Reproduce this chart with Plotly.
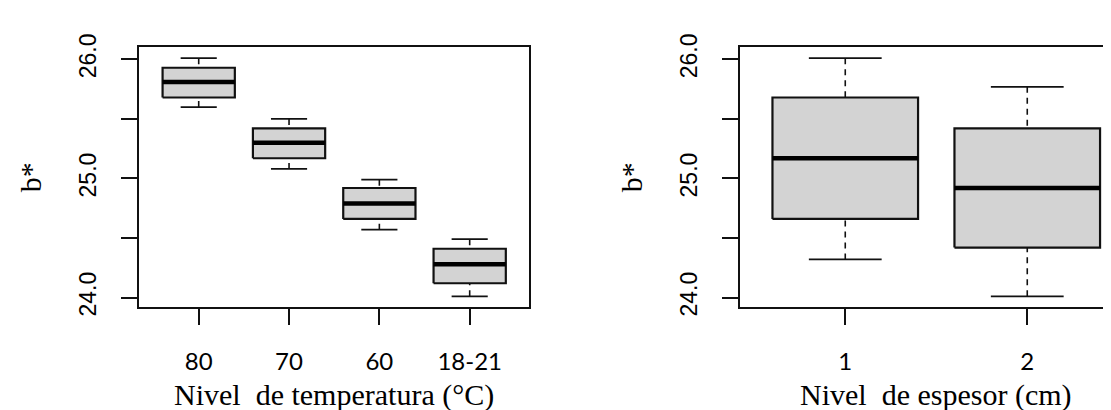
import plotly.graph_objects as go

# ---- data ----
temp_levels = ["80", "70", "60", "18-21"]
temp_low = [25.60, 25.08, 24.57, 24.01]
temp_q1 = [25.68, 25.17, 24.66, 24.12]
temp_median = [25.81, 25.30, 24.79, 24.28]
temp_q3 = [25.93, 25.42, 24.92, 24.41]
temp_high = [26.01, 25.50, 24.99, 24.49]

esp_levels = ["1", "2"]
esp_low = [24.32, 24.01]
esp_q1 = [24.66, 24.42]
esp_median = [25.17, 24.92]
esp_q3 = [25.68, 25.42]
esp_high = [26.01, 25.77]

y_tickvals = [24.0, 24.5, 25.0, 25.5, 26.0]
y_ticktext = ["24.0", "", "25.0", "", "26.0"]

W, H = 1111, 410
BOX_HALF = 0.4
CAP_HALF = 0.2
FILL = "#d3d3d3"
INK = "#111111"


def box_traces(low, q1, med, q3, high, xa, ya):
    bx, by, mx, my, wx, wy, cx, cy = [], [], [], [], [], [], [], []
    for i in range(len(med)):
        p = i + 1
        bx += [p - BOX_HALF, p + BOX_HALF, p + BOX_HALF, p - BOX_HALF, p - BOX_HALF, None]
        by += [q1[i], q1[i], q3[i], q3[i], q1[i], None]
        mx += [p - BOX_HALF, p + BOX_HALF, None]
        my += [med[i], med[i], None]
        wx += [p, p, None, p, p, None]
        wy += [low[i], q1[i], None, high[i], q3[i], None]
        cx += [p - CAP_HALF, p + CAP_HALF, None, p - CAP_HALF, p + CAP_HALF, None]
        cy += [low[i], low[i], None, high[i], high[i], None]
    common = dict(mode="lines", hoverinfo="skip", showlegend=False, xaxis=xa, yaxis=ya)
    return [
        go.Scatter(x=wx, y=wy, line=dict(color=INK, width=1.6, dash="6px,5px"), **common),
        go.Scatter(x=cx, y=cy, line=dict(color=INK, width=1.8), **common),
        go.Scatter(x=bx, y=by, fill="toself", fillcolor=FILL,
                   line=dict(color=INK, width=2.2), **common),
        go.Scatter(x=mx, y=my, line=dict(color="#000000", width=4.5), **common),
    ]


fig = go.Figure()
for t in box_traces(temp_low, temp_q1, temp_median, temp_q3, temp_high, "x", "y"):
    fig.add_trace(t)
for t in box_traces(esp_low, esp_q1, esp_median, esp_q3, esp_high, "x2", "y2"):
    fig.add_trace(t)

ydom = [(H - 302.3) / H, (H - 26.7) / H]
yrange = [23.924, 26.103]

ytick_font = dict(family="Liberation Sans, Arial, sans-serif", size=23, color="#000000")
xtick_font = dict(family="Lato, Open Sans, sans-serif", size=24, color="#000000")

yaxis_common = dict(
    range=yrange, domain=ydom, tickmode="array", tickvals=y_tickvals, ticktext=y_ticktext,
    ticks="outside", ticklen=16, tickwidth=1.6, tickcolor=INK, tickangle=-90,
    tickfont=ytick_font, showgrid=False, zeroline=False, showline=True,
    linecolor=INK, linewidth=1.8, ticklabelstandoff=16,
)
xaxis_common = dict(
    tickmode="array", ticks="outside", ticklen=16, tickwidth=1.6, tickcolor=INK,
    tickfont=xtick_font, showgrid=False, zeroline=False, showline=True,
    linecolor=INK, linewidth=1.8, mirror=True, ticklabelstandoff=17,
)

left_x0, left_x1 = 131.1, 521.3
right_x0 = 731.7

fig.update_layout(
    width=W, height=H,
    margin=dict(l=0, r=0, t=0, b=0),
    paper_bgcolor="white", plot_bgcolor="white",
    xaxis=dict(domain=[left_x0 / W, left_x1 / W], range=[0.34, 4.66],
               tickvals=list(range(1, len(temp_levels) + 1)), ticktext=temp_levels,
               anchor="y", **xaxis_common),
    yaxis=dict(anchor="x", mirror=True, **yaxis_common),
    xaxis2=dict(domain=[right_x0 / W, 1.0], range=[0.42, 0.42 + (W - right_x0) / 182.0],
                tickvals=list(range(1, len(esp_levels) + 1)), ticktext=esp_levels,
                anchor="y2", **xaxis_common),
    yaxis2=dict(anchor="x2", mirror=False, **yaxis_common),
)

title_font = dict(family="Liberation Serif, Times New Roman, serif", size=30, color="#000000")
ylab_font = dict(family="Liberation Serif, Times New Roman, serif", size=30, color="#000000")

annotations = [
    dict(text="Nivel\u00a0 de temperatura (°C)", x=(left_x0 + left_x1) / 2 / W, y=(H - 396) / H,
         xref="paper", yref="paper", xanchor="center", yanchor="middle",
         showarrow=False, font=title_font),
    dict(text="Nivel\u00a0 de espesor\u00a0(cm)", x=928 / W, y=(H - 396) / H,
         xref="paper", yref="paper", xanchor="center", yanchor="middle",
         showarrow=False, font=title_font),
    dict(text="b*", x=22 / W, y=(H - 165) / H, textangle=-90,
         xref="paper", yref="paper", xanchor="center", yanchor="middle",
         showarrow=False, font=ylab_font),
    dict(text="b*", x=623 / W, y=(H - 165) / H, textangle=-90,
         xref="paper", yref="paper", xanchor="center", yanchor="middle",
         showarrow=False, font=ylab_font),
]
fig.update_layout(annotations=annotations)

fig.write_html("out.html")
